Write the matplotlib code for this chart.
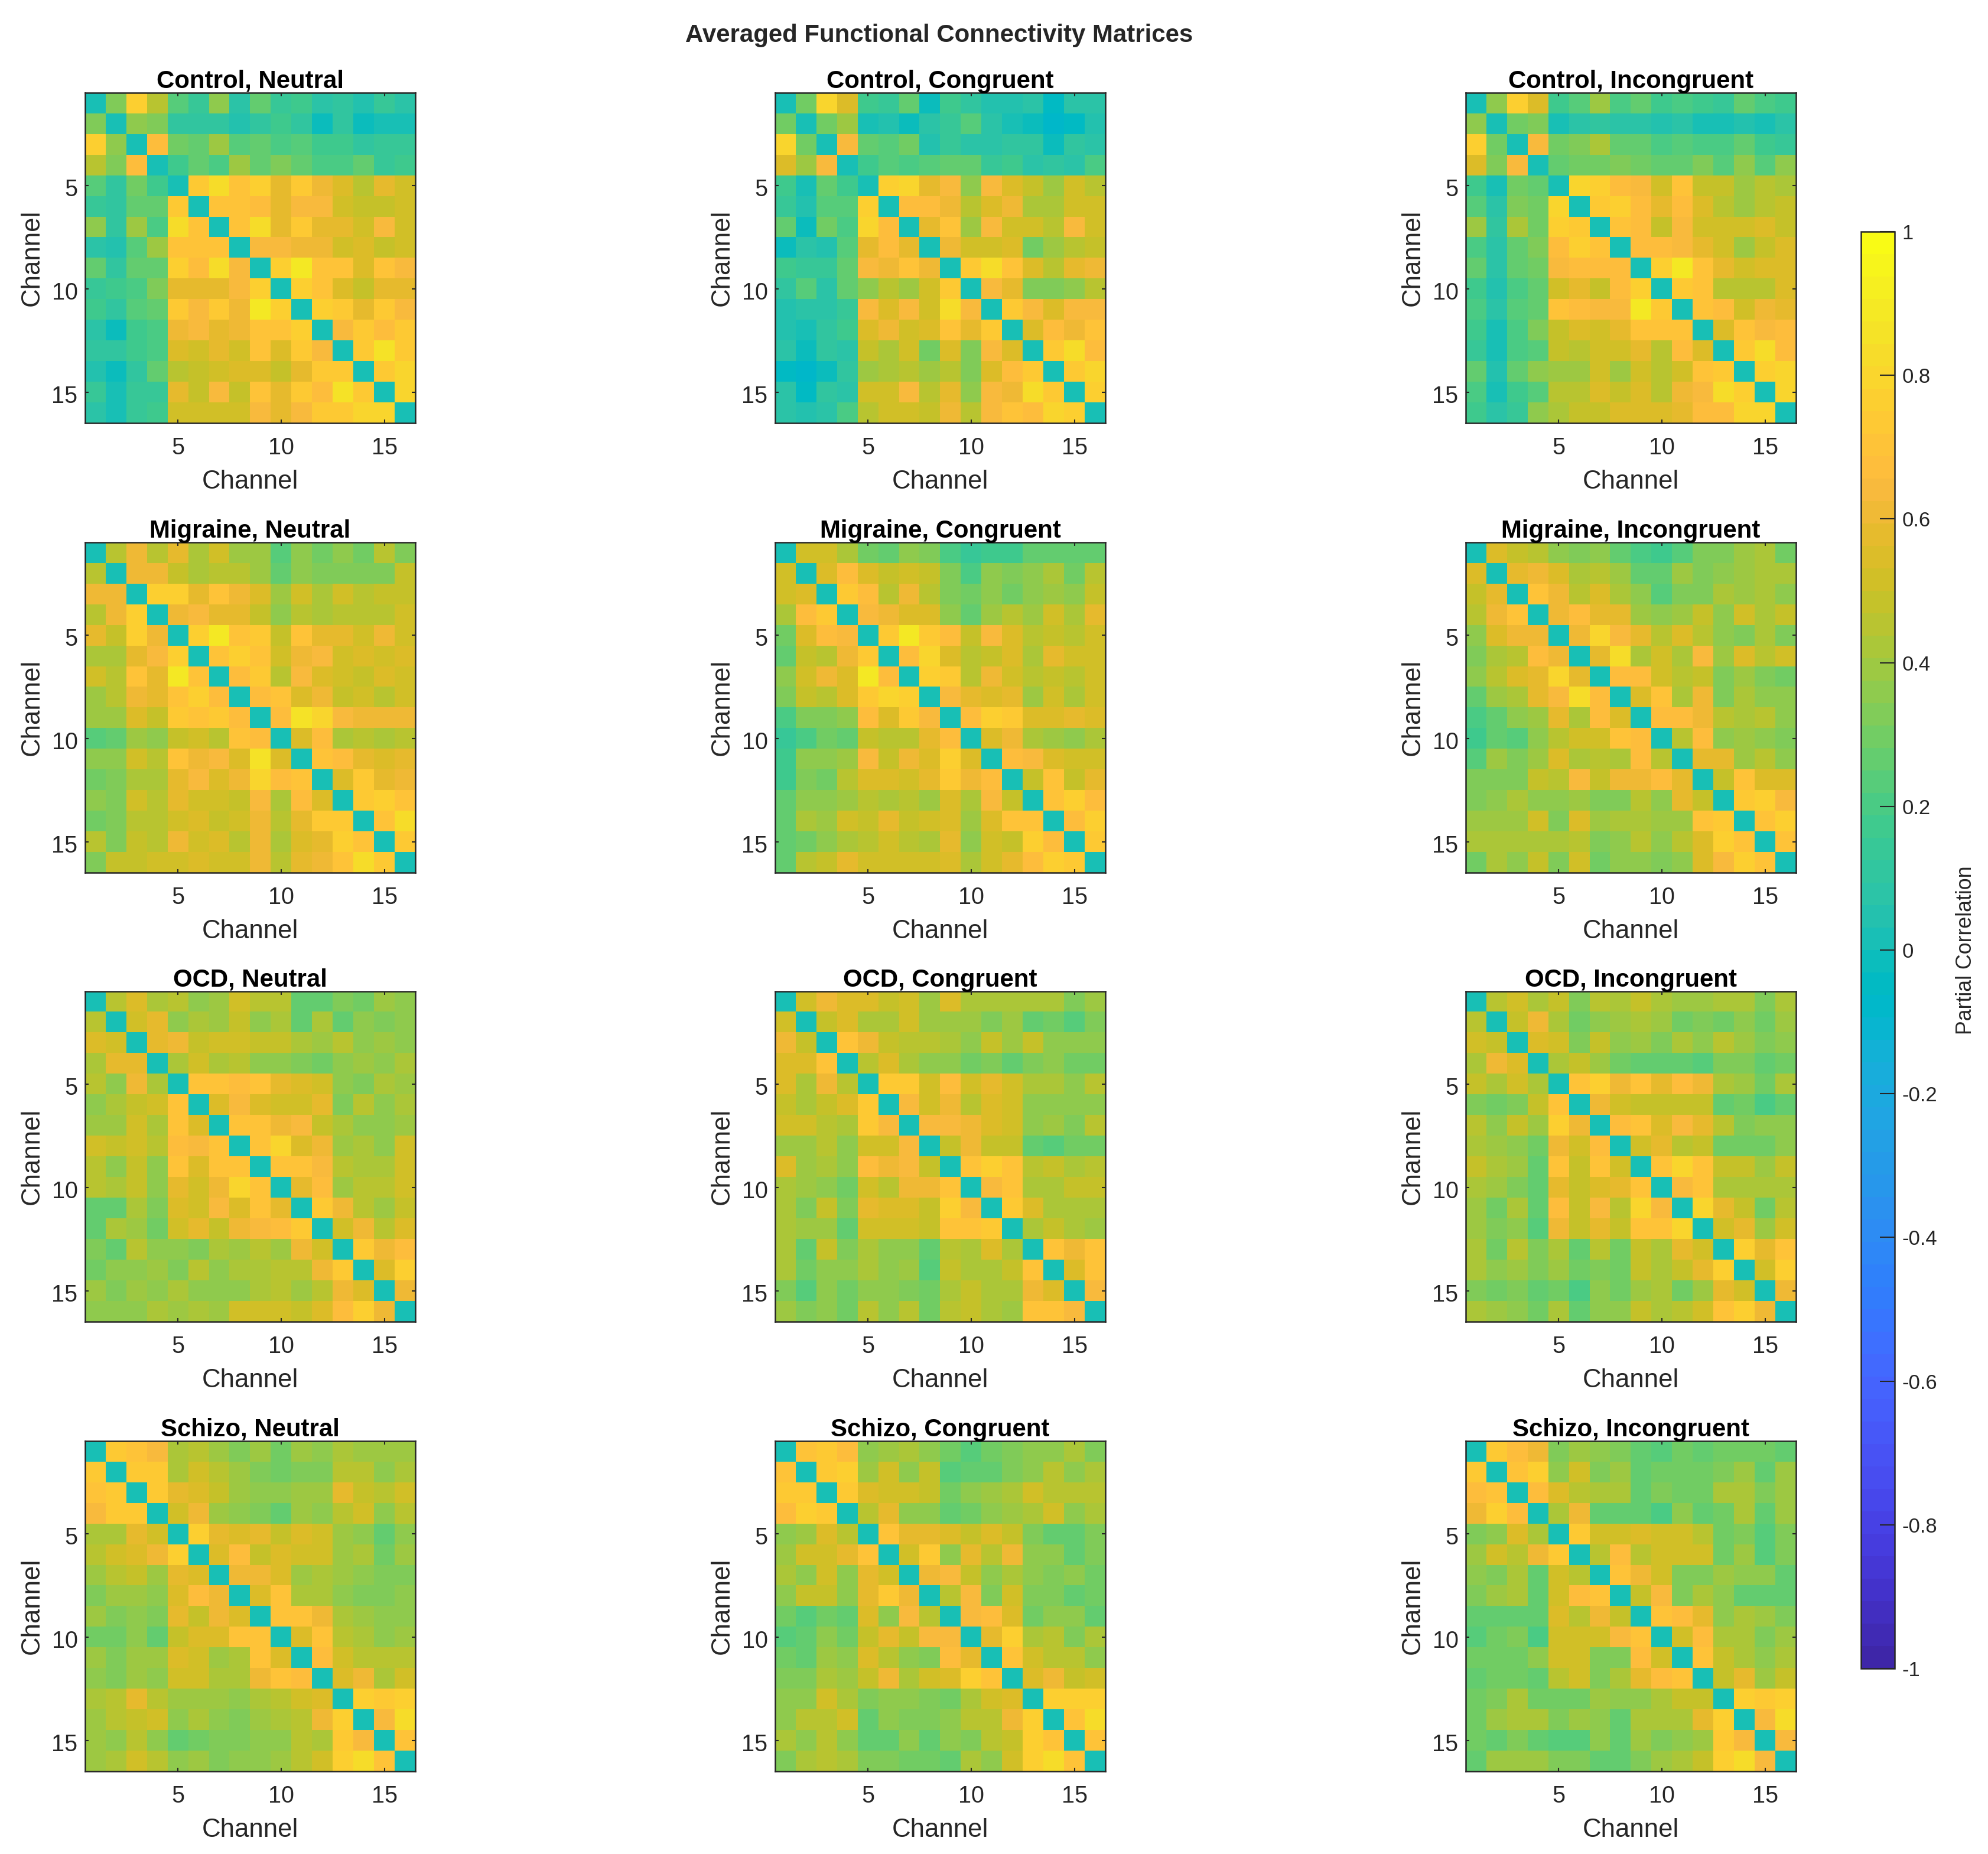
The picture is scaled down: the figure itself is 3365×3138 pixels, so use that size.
#!/usr/bin/env python
# plot.py
# averaged connectivity matrices, one panel per group and condition

import matplotlib
matplotlib.use('Agg')

import matplotlib.pyplot as plt
from matplotlib.colors import ListedColormap
from matplotlib.transforms import ScaledTranslation
import numpy as np

groups = ['Control', 'Migraine', 'OCD', 'Schizo']
conditions = ['Neutral', 'Congruent', 'Incongruent']
channel_ticks = [5, 10, 15]
cbar_ticks = [-1, -0.8, -0.6, -0.4, -0.2, 0, 0.2, 0.4, 0.6, 0.8, 1]

# upper triangles, diagonal is 0
control_neutral = [
    [.33, .76, .46, .22, .13, .36, .08, .26, .14, .17, .07, .12, .05, .13, .09],
    [.36, .32, .12, .12, .12, .05, .12, .18, .12, -.02, .10, -.02, .01, .03],
    [.66, .30, .27, .38, .24, .28, .20, .23, .17, .18, .12, .13, .14],
    [.18, .27, .20, .38, .25, .33, .25, .21, .21, .27, .14, .16],
    [.74, .84, .70, .76, .57, .74, .60, .56, .46, .58, .51],
    [.70, .70, .68, .59, .65, .65, .50, .49, .47, .53],
    [.69, .84, .57, .72, .58, .57, .50, .63, .53],
    [.65, .64, .61, .61, .50, .54, .49, .53],
    [.75, .90, .71, .69, .55, .71, .63],
    [.77, .71, .54, .48, .59, .57],
    [.76, .74, .59, .72, .64],
    [.64, .72, .68, .72],
    [.72, .86, .72],
    [.73, .80],
    [.79],
]
control_congruent = [
    [.30, .80, .56, .16, .13, .25, -.02, .18, .10, .06, .05, .07, -.04, .09, .09],
    [.30, .39, .03, .04, -.03, .07, .14, .23, .09, .02, -.03, -.07, -.05, .04],
    [.64, .27, .23, .31, .06, .14, .08, .08, .10, .10, -.02, .10, .09],
    [.18, .22, .19, .24, .26, .25, .15, .18, .09, .12, .07, .19],
    [.76, .80, .59, .65, .37, .65, .55, .47, .40, .53, .46],
    [.68, .68, .61, .44, .55, .61, .43, .43, .53, .52],
    [.59, .69, .38, .63, .52, .51, .45, .65, .52],
    [.61, .51, .51, .54, .31, .40, .44, .47],
    [.72, .84, .70, .55, .46, .59, .61],
    [.63, .59, .33, .33, .37, .44],
    [.74, .65, .56, .65, .63],
    [.56, .68, .61, .70],
    [.73, .84, .68],
    [.72, .79],
    [.75],
]
control_incongruent = [
    [.36, .75, .54, .17, .22, .39, .20, .27, .16, .20, .17, .13, .25, .20, .18],
    [.30, .32, .02, .08, .10, .08, .08, .05, .08, .02, .02, .04, .01, .09],
    [.63, .30, .33, .41, .28, .28, .19, .24, .20, .20, .26, .16, .15],
    [.25, .29, .30, .33, .31, .26, .25, .34, .22, .36, .22, .35],
    [.80, .75, .68, .65, .53, .70, .49, .48, .40, .44, .42],
    [.74, .75, .66, .58, .66, .54, .46, .40, .44, .47],
    [.69, .68, .49, .63, .52, .50, .50, .55, .49],
    [.67, .67, .63, .59, .50, .38, .47, .54],
    [.77, .90, .70, .58, .52, .54, .55],
    [.74, .70, .46, .44, .46, .56],
    [.69, .67, .52, .60, .57],
    [.56, .69, .63, .68],
    [.72, .84, .68],
    [.76, .80],
    [.80],
]
migraine_neutral = [
    [.46, .60, .46, .57, .42, .50, .40, .39, .23, .36, .31, .37, .31, .46, .33],
    [.60, .60, .48, .41, .45, .44, .38, .26, .37, .32, .33, .33, .34, .47],
    [.75, .75, .59, .69, .60, .54, .40, .51, .42, .50, .44, .48, .49],
    [.62, .65, .59, .59, .48, .36, .44, .43, .44, .45, .45, .53],
    [.78, .89, .69, .72, .49, .69, .59, .57, .51, .62, .53],
    [.71, .76, .70, .52, .61, .64, .50, .55, .53, .54],
    [.68, .72, .44, .64, .56, .51, .49, .55, .53],
    [.67, .69, .56, .61, .47, .50, .46, .51],
    [.66, .87, .80, .64, .62, .62, .62],
    [.56, .67, .42, .44, .43, .46],
    [.71, .68, .59, .56, .59],
    [.56, .72, .58, .62],
    [.73, .77, .71],
    [.70, .84],
    [.73],
]
migraine_congruent = [
    [.53, .52, .43, .29, .28, .36, .32, .21, .14, .18, .18, .26, .26, .26, .26],
    [.56, .68, .54, .49, .52, .49, .32, .20, .36, .34, .35, .41, .31, .44],
    [.72, .66, .45, .60, .46, .34, .31, .35, .31, .36, .39, .35, .47],
    [.63, .62, .54, .54, .37, .27, .39, .44, .40, .50, .41, .57],
    [.72, .88, .72, .68, .47, .65, .54, .45, .48, .46, .53],
    [.66, .81, .55, .45, .47, .56, .43, .57, .52, .53],
    [.75, .72, .46, .60, .53, .44, .49, .45, .53],
    [.65, .58, .54, .59, .40, .53, .42, .53],
    [.66, .76, .72, .56, .56, .58, .56],
    [.55, .61, .42, .40, .37, .41],
    [.67, .63, .56, .51, .51],
    [.49, .70, .47, .59],
    [.70, .76, .67],
    [.66, .76],
    [.73],
]
migraine_incongruent = [
    [.55, .49, .44, .36, .34, .36, .27, .19, .16, .24, .32, .33, .38, .41, .31],
    [.59, .61, .55, .43, .45, .40, .27, .27, .39, .32, .35, .38, .43, .43],
    [.71, .62, .45, .55, .41, .36, .24, .34, .32, .43, .39, .41, .36],
    [.62, .66, .57, .59, .38, .35, .38, .49, .36, .51, .43, .49],
    [.61, .80, .65, .57, .46, .56, .45, .35, .33, .41, .34],
    [.58, .82, .42, .52, .42, .63, .38, .56, .45, .50],
    [.68, .68, .52, .46, .47, .34, .38, .34, .30],
    [.54, .69, .43, .60, .34, .42, .35, .37],
    [.67, .67, .60, .44, .42, .45, .35],
    [.46, .67, .36, .38, .36, .33],
    [.59, .57, .38, .46, .35],
    [.49, .70, .54, .56],
    [.72, .75, .63],
    [.69, .75],
    [.71],
]
ocd_neutral = [
    [.46, .54, .43, .46, .35, .39, .51, .44, .44, .28, .28, .33, .30, .39, .35],
    [.50, .59, .36, .43, .38, .49, .36, .41, .27, .42, .26, .36, .33, .37],
    [.59, .60, .47, .53, .53, .49, .49, .43, .38, .44, .36, .38, .37],
    [.42, .50, .42, .44, .36, .37, .33, .31, .36, .38, .35, .42],
    [.69, .69, .67, .70, .58, .55, .52, .36, .34, .41, .39],
    [.56, .65, .56, .53, .53, .59, .34, .44, .37, .43],
    [.71, .71, .61, .63, .49, .43, .35, .35, .38],
    [.69, .79, .54, .61, .40, .43, .37, .50],
    [.70, .71, .65, .46, .43, .43, .50],
    [.59, .68, .40, .46, .46, .50],
    [.72, .60, .46, .40, .47],
    [.50, .60, .45, .55],
    [.72, .60, .68],
    [.55, .77],
    [.62],
]
ocd_congruent = [
    [.51, .61, .54, .54, .48, .50, .40, .54, .42, .43, .41, .41, .41, .34, .40],
    [.47, .56, .41, .41, .50, .40, .40, .40, .32, .38, .26, .31, .24, .32],
    [.69, .60, .49, .45, .44, .43, .37, .49, .38, .47, .37, .36, .35],
    [.44, .54, .42, .35, .37, .30, .32, .27, .34, .35, .31, .31],
    [.74, .72, .51, .66, .52, .58, .52, .43, .41, .37, .44],
    [.65, .51, .62, .45, .55, .52, .36, .36, .36, .37],
    [.63, .63, .60, .55, .51, .37, .38, .33, .44],
    [.48, .62, .47, .49, .27, .23, .31, .31],
    [.71, .76, .69, .46, .47, .42, .46],
    [.63, .70, .41, .41, .47, .48],
    [.72, .56, .42, .43, .43],
    [.43, .49, .42, .40],
    [.71, .61, .70],
    [.55, .71],
    [.65],
]
ocd_incongruent = [
    [.44, .52, .41, .49, .33, .46, .41, .49, .42, .39, .39, .43, .42, .34, .43],
    [.48, .61, .41, .31, .37, .39, .41, .38, .30, .33, .30, .35, .29, .38],
    [.55, .53, .33, .49, .36, .40, .33, .42, .37, .46, .39, .32, .36],
    [.41, .49, .39, .30, .28, .28, .26, .24, .34, .32, .27, .31],
    [.71, .75, .62, .70, .59, .67, .62, .41, .40, .31, .41],
    [.62, .50, .48, .48, .48, .49, .27, .29, .20, .28],
    [.67, .69, .55, .63, .57, .45, .33, .36, .35],
    [.51, .58, .45, .49, .31, .30, .29, .35],
    [.70, .80, .69, .48, .48, .38, .48],
    [.63, .69, .42, .43, .43, .43],
    [.80, .58, .48, .31, .44],
    [.52, .57, .40, .50],
    [.77, .58, .69],
    [.52, .77],
    [.60],
]
schizo_neutral = [
    [.73, .70, .64, .43, .45, .40, .34, .38, .31, .39, .35, .42, .39, .40, .39],
    [.73, .73, .43, .52, .45, .38, .32, .31, .33, .33, .44, .45, .36, .43],
    [.72, .57, .54, .47, .40, .36, .37, .38, .40, .59, .48, .46, .50],
    [.50, .61, .40, .36, .34, .28, .38, .35, .45, .50, .36, .46],
    [.77, .58, .54, .58, .47, .55, .50, .38, .35, .28, .37],
    [.56, .66, .49, .55, .51, .52, .38, .41, .30, .40],
    [.60, .60, .54, .40, .42, .39, .37, .34, .34],
    [.54, .70, .41, .42, .36, .33, .32, .35],
    [.70, .70, .62, .42, .38, .36, .37],
    [.56, .70, .45, .42, .36, .40],
    [.66, .53, .46, .46, .46],
    [.56, .62, .43, .52],
    [.78, .73, .78],
    [.64, .84],
    [.69],
]
schizo_congruent = [
    [.70, .74, .66, .36, .39, .43, .36, .29, .23, .30, .33, .37, .37, .43, .32],
    [.73, .77, .40, .52, .37, .49, .22, .26, .26, .33, .37, .44, .36, .42],
    [.72, .56, .50, .50, .49, .31, .36, .39, .41, .53, .45, .44, .44],
    [.45, .59, .37, .37, .26, .31, .35, .38, .42, .50, .35, .41],
    [.69, .57, .58, .54, .47, .56, .47, .33, .28, .25, .32],
    [.53, .73, .36, .58, .45, .60, .35, .37, .25, .32],
    [.62, .65, .47, .36, .41, .35, .32, .37, .30],
    [.44, .64, .33, .52, .33, .32, .26, .30],
    [.63, .67, .54, .30, .36, .35, .28],
    [.58, .78, .43, .44, .33, .41],
    [.70, .51, .44, .44, .37],
    [.54, .60, .48, .51],
    [.77, .77, .77],
    [.70, .84],
    [.70],
]
schizo_incongruent = [
    [.72, .66, .60, .32, .40, .36, .34, .26, .22, .30, .27, .31, .31, .31, .27],
    [.70, .75, .36, .52, .34, .40, .28, .29, .31, .31, .34, .38, .26, .39],
    [.67, .56, .46, .41, .41, .27, .33, .31, .31, .42, .41, .33, .39],
    [.42, .60, .26, .27, .26, .21, .35, .25, .31, .41, .26, .38],
    [.74, .53, .52, .55, .51, .53, .46, .31, .33, .22, .32],
    [.46, .67, .46, .50, .50, .50, .31, .38, .23, .32],
    [.71, .61, .50, .32, .32, .38, .37, .35, .26],
    [.47, .65, .32, .41, .36, .28, .28, .28],
    [.70, .67, .59, .36, .42, .38, .33],
    [.50, .67, .43, .43, .33, .40],
    [.71, .47, .41, .37, .42],
    [.49, .58, .39, .48],
    [.75, .72, .77],
    [.65, .84],
    [.64],
]

panels = [
    [control_neutral, control_congruent, control_incongruent],
    [migraine_neutral, migraine_congruent, migraine_incongruent],
    [ocd_neutral, ocd_congruent, ocd_incongruent],
    [schizo_neutral, schizo_congruent, schizo_incongruent],
]

# parula, 64 steps
parula = ListedColormap([
    (0.2422, 0.1504, 0.6603), (0.2504, 0.1650, 0.7076), (0.2578, 0.1818, 0.7511), (0.2647, 0.1978, 0.7952),
    (0.2706, 0.2147, 0.8364), (0.2751, 0.2342, 0.8710), (0.2783, 0.2559, 0.8991), (0.2803, 0.2782, 0.9221),
    (0.2813, 0.3006, 0.9414), (0.2810, 0.3228, 0.9579), (0.2795, 0.3447, 0.9717), (0.2760, 0.3667, 0.9829),
    (0.2699, 0.3892, 0.9906), (0.2602, 0.4123, 0.9952), (0.2440, 0.4358, 0.9988), (0.2206, 0.4603, 0.9973),
    (0.1963, 0.4847, 0.9892), (0.1834, 0.5074, 0.9798), (0.1786, 0.5289, 0.9682), (0.1764, 0.5499, 0.9520),
    (0.1687, 0.5703, 0.9359), (0.1540, 0.5902, 0.9218), (0.1460, 0.6091, 0.9079), (0.1380, 0.6276, 0.8973),
    (0.1248, 0.6459, 0.8883), (0.1113, 0.6635, 0.8763), (0.0952, 0.6798, 0.8598), (0.0689, 0.6948, 0.8394),
    (0.0297, 0.7082, 0.8163), (0.0036, 0.7203, 0.7917), (0.0067, 0.7312, 0.7660), (0.0433, 0.7411, 0.7394),
    (0.0964, 0.7500, 0.7120), (0.1408, 0.7584, 0.6842), (0.1717, 0.7670, 0.6554), (0.1938, 0.7758, 0.6251),
    (0.2161, 0.7843, 0.5923), (0.2470, 0.7918, 0.5567), (0.2906, 0.7973, 0.5188), (0.3406, 0.8008, 0.4789),
    (0.3909, 0.8029, 0.4354), (0.4456, 0.8024, 0.3909), (0.5044, 0.7993, 0.3480), (0.5616, 0.7942, 0.3045),
    (0.6174, 0.7876, 0.2612), (0.6720, 0.7793, 0.2227), (0.7242, 0.7698, 0.1910), (0.7738, 0.7598, 0.1646),
    (0.8203, 0.7498, 0.1535), (0.8634, 0.7406, 0.1596), (0.9035, 0.7330, 0.1774), (0.9393, 0.7288, 0.2100),
    (0.9728, 0.7298, 0.2394), (0.9956, 0.7434, 0.2371), (0.9970, 0.7659, 0.2199), (0.9952, 0.7893, 0.2028),
    (0.9892, 0.8136, 0.1885), (0.9786, 0.8386, 0.1766), (0.9676, 0.8639, 0.1643), (0.9610, 0.8890, 0.1537),
    (0.9597, 0.9135, 0.1423), (0.9628, 0.9373, 0.1265), (0.9691, 0.9606, 0.1064), (0.9769, 0.9839, 0.0805),
])

plt.rcParams['font.family'] = ['Liberation Sans', 'DejaVu Sans']
dark = '#262626'
W, H = 3365, 3138
fig = plt.figure(figsize=(W / 300, H / 300), dpi=300)


def pixel_axes(left, top, width, height):
    return fig.add_axes([left / W, 1 - (top + height) / H, width / W, height / H])


def full_matrix(rows):
    m = np.zeros((16, 16))
    for i, row in enumerate(rows):
        m[i, i + 1:] = row
    return m + m.T


lefts = [144, 1312, 2481]
tops = [157, 918, 1678, 2439]
size = 559
nudge = ScaledTranslation(0, -0.7 / 72, fig.dpi_scale_trans)  # y tick labels sit a bit low

for r, group in enumerate(groups):
    for c, condition in enumerate(conditions):
        ax = pixel_axes(lefts[c], tops[r], size, size)
        im = ax.imshow(full_matrix(panels[r][c]), cmap=parula, vmin=-1, vmax=1,
                       interpolation='nearest', aspect='equal')
        ax.set_xticks([t - 1 for t in channel_ticks])
        ax.set_yticks([t - 1 for t in channel_ticks])
        ax.set_xticklabels(channel_ticks)
        ax.set_yticklabels(channel_ticks)
        ax.tick_params(direction='in', length=1.5, width=0.5, color=dark, labelcolor=dark,
                       labelsize=9.5, top=True, right=True)
        ax.tick_params(axis='x', pad=5.5)
        ax.tick_params(axis='y', pad=3)
        for label in ax.get_yticklabels():
            label.set_transform(label.get_transform() + nudge)
        for s in ax.spines.values():
            s.set_linewidth(0.6)
            s.set_color(dark)
        ax.set_xlabel('Channel', fontsize=10.5, color=dark, labelpad=4.4)
        ax.set_ylabel('Channel', fontsize=10.5, color=dark, labelpad=3)
        ax.set_title(group + ', ' + condition, fontsize=10.1, fontweight='bold', color='black', pad=2)

fig.text(1590 / W, 1 - 60 / H, 'Averaged Functional Connectivity Matrices', fontsize=10.1,
         fontweight='bold', color=dark, ha='center', va='center')

cax = pixel_axes(3150, 392, 57, 2432)
cb = fig.colorbar(im, cax=cax)
cb.set_ticks(cbar_ticks)
cb.set_ticklabels(['%g' % t for t in cbar_ticks])
cb.ax.tick_params(direction='in', length=6, width=0.5, color=dark, labelcolor=dark, labelsize=8.3, pad=3)
cb.outline.set_linewidth(0.6)
cb.outline.set_edgecolor(dark)
cb.set_label('Partial Correlation', fontsize=8.6, color=dark, labelpad=7.4)

plt.savefig('out.png', dpi=300)
